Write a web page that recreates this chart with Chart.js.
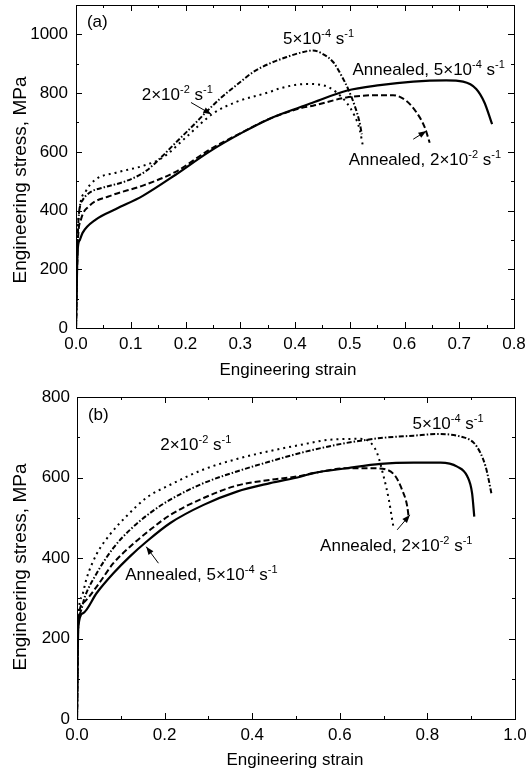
<!DOCTYPE html>
<html>
<head>
<meta charset="utf-8">
<script src="https://cdn.jsdelivr.net/npm/chart.js@4.4.0/dist/chart.umd.min.js"></script>
<style>
  html, body { margin: 0; padding: 0; background: #fff; }
  .panel { position: absolute; left: 0; width: 527px; height: 386px; }
  #panelA { top: 0; }
  #panelB { top: 386px; }
</style>
</head>
<body>
<div class="panel" id="panelA"><canvas id="chartA" width="527" height="386"></canvas></div>
<div class="panel" id="panelB"><canvas id="chartB" width="527" height="386"></canvas></div>
<script>
// ---- panel (a) data ----
const aStrainTicks = [0, 0.1, 0.2, 0.3, 0.4, 0.5, 0.6, 0.7, 0.8];
const aStressTicks = [0, 200, 400, 600, 800, 1000];
const aStressMax = 1100;

// annealed, 5e-4 (solid)
const aStrainAnn5e4 = [0, 0.003, 0.007, 0.012, 0.036, 0.073, 0.122, 0.182, 0.243, 0.305, 0.354, 0.409, 0.433, 0.494, 0.555, 0.616, 0.676, 0.707, 0.731, 0.746, 0.76];
const aStressAnn5e4 = [0, 265, 300, 324, 369, 405, 450, 522, 600, 667, 713, 752, 768, 808, 827, 839, 843, 839, 814, 768, 694];
// annealed, 2e-2 (dashed)
const aStrainAnn2e2 = [0, 0.003, 0.009, 0.024, 0.061, 0.122, 0.182, 0.243, 0.305, 0.354, 0.409, 0.433, 0.494, 0.555, 0.579, 0.603, 0.622, 0.637, 0.646];
const aStressAnn2e2 = [0, 280, 369, 415, 449, 485, 532, 606, 668, 713, 748, 757, 785, 793, 793, 774, 734, 683, 631];
// 5e-4 (dash-dot)
const aStrain5e4 = [0, 0.003, 0.006, 0.012, 0.024, 0.049, 0.091, 0.128, 0.158, 0.182, 0.213, 0.239, 0.263, 0.293, 0.324, 0.354, 0.385, 0.409, 0.433, 0.451, 0.47, 0.485, 0.497, 0.509, 0.518, 0.522];
const aStress5e4 = [0, 300, 400, 435, 460, 478, 500, 535, 586, 631, 688, 738, 781, 827, 872, 901, 923, 937, 945, 933, 905, 859, 814, 757, 700, 660];
// 2e-2 (dotted)
const aStrain2e2 = [0, 0.003, 0.007, 0.018, 0.036, 0.073, 0.122, 0.158, 0.2, 0.25, 0.293, 0.354, 0.372, 0.421, 0.451, 0.476, 0.494, 0.509, 0.518, 0.524];
const aStress2e2 = [0, 310, 410, 466, 506, 529, 552, 580, 648, 730, 770, 804, 816, 831, 827, 802, 768, 722, 677, 620];

// ---- panel (b) data ----
const bStrainTicks = [0, 0.2, 0.4, 0.6, 0.8, 1.0];
const bStressTicks = [0, 200, 400, 600, 800];
const bStressMax = 800;

const bStrainAnn5e4 = [0, 0.003, 0.014, 0.045, 0.083, 0.121, 0.159, 0.213, 0.289, 0.365, 0.441, 0.51, 0.54, 0.616, 0.693, 0.769, 0.83, 0.868, 0.891, 0.902, 0.907];
const bStressAnn5e4 = [0, 230, 263, 313, 362, 404, 441, 487, 532, 565, 586, 602, 611, 623, 634, 637, 637, 627, 603, 561, 503];
const bStrainAnn2e2 = [0, 0.003, 0.014, 0.045, 0.083, 0.121, 0.167, 0.213, 0.289, 0.365, 0.441, 0.51, 0.54, 0.616, 0.677, 0.708, 0.727, 0.742, 0.754, 0.757];
const bStressAnn2e2 = [0, 240, 288, 329, 387, 428, 470, 507, 549, 580, 594, 604, 611, 623, 623, 619, 603, 570, 528, 503];
const bStrain5e4 = [0, 0.003, 0.007, 0.018, 0.045, 0.083, 0.121, 0.167, 0.213, 0.289, 0.365, 0.441, 0.51, 0.54, 0.616, 0.693, 0.769, 0.822, 0.875, 0.906, 0.921, 0.933, 0.94, 0.946];
const bStress5e4 = [0, 240, 263, 304, 362, 425, 470, 512, 545, 586, 615, 640, 661, 669, 686, 698, 704, 708, 702, 686, 661, 627, 594, 561];
const bStrain2e2 = [0, 0.003, 0.011, 0.022, 0.045, 0.075, 0.114, 0.159, 0.213, 0.289, 0.365, 0.441, 0.51, 0.578, 0.647, 0.67, 0.685, 0.7, 0.712, 0.719, 0.722];
const bStress2e2 = [0, 250, 304, 350, 410, 458, 505, 550, 582, 620, 646, 666, 681, 694, 696, 687, 661, 603, 545, 499, 480];

const FONT = '"Liberation Sans", Arial, sans-serif';

// line styles for the four curves
const solid = { dash: [], width: 2.2 };
const dashed = { dash: [6, 3], width: 2 };
const dashDot = { dash: [5, 2, 1.5, 2], width: 2 };
const dotted = { dash: [2, 4], width: 2 };

// text with ^{...} superscripts, drawn from a left/baseline anchor
function drawRich(ctx, x, y, str) {
  const parts = str.split(/\^\{([^}]*)\}/);
  let cx = x;
  parts.forEach((t, i) => {
    const sup = i % 2 === 1;
    ctx.font = (sup ? '11px ' : '17px ') + FONT;
    ctx.fillText(t, cx, sup ? y - 7 : y);
    cx += ctx.measureText(t).width;
  });
}

function drawArrow(ctx, x0, y0, x1, y1) {
  const ang = Math.atan2(y1 - y0, x1 - x0);
  ctx.beginPath();
  ctx.moveTo(x0, y0);
  ctx.lineTo(x1, y1);
  ctx.stroke();
  ctx.beginPath();
  ctx.moveTo(x1, y1);
  ctx.lineTo(x1 - 8 * Math.cos(ang) + 3 * Math.sin(ang), y1 - 8 * Math.sin(ang) - 3 * Math.cos(ang));
  ctx.lineTo(x1 - 8 * Math.cos(ang) - 3 * Math.sin(ang), y1 - 8 * Math.sin(ang) + 3 * Math.cos(ang));
  ctx.closePath();
  ctx.fill();
}

// frame, inward ticks on all four sides, axis titles and annotations
const panelDecor = {
  id: 'panelDecor',
  afterDraw(chart, args, o) {
    const { ctx, chartArea: a, scales: { x, y } } = chart;
    ctx.save();
    ctx.strokeStyle = '#000';
    ctx.fillStyle = '#000';
    ctx.lineWidth = 1;
    ctx.strokeRect(a.left + 0.5, a.top + 0.5, a.right - a.left, a.bottom - a.top);

    const nx = Math.round((x.max - x.min) / o.xMinor);
    for (let i = 0; i <= nx; i++) {
      const v = x.min + i * o.xMinor;
      const len = i % 2 === 0 ? 6 : 3;
      const px = Math.round(x.getPixelForValue(v)) + 0.5;
      ctx.beginPath();
      ctx.moveTo(px, a.bottom); ctx.lineTo(px, a.bottom - len);
      ctx.moveTo(px, a.top); ctx.lineTo(px, a.top + len);
      ctx.stroke();
    }
    const ny = Math.round((y.max - y.min) / o.yMinor);
    for (let i = 0; i <= ny; i++) {
      const v = y.min + i * o.yMinor;
      const len = i % 2 === 0 ? 6 : 3;
      const py = Math.round(y.getPixelForValue(v)) + 0.5;
      ctx.beginPath();
      ctx.moveTo(a.left, py); ctx.lineTo(a.left + len, py);
      ctx.moveTo(a.right, py); ctx.lineTo(a.right - len, py);
      ctx.stroke();
    }

    // axis titles
    ctx.textAlign = 'center';
    ctx.textBaseline = 'alphabetic';
    ctx.font = '17px ' + FONT;
    ctx.fillText(o.xTitle.text, o.xTitle.x, o.xTitle.y);
    ctx.font = '19px ' + FONT;
    ctx.save();
    ctx.translate(o.yTitle.x, o.yTitle.y);
    ctx.rotate(-Math.PI / 2);
    ctx.fillText(o.yTitle.text, 0, 0);
    ctx.restore();

    // annotations
    ctx.textAlign = 'left';
    o.notes.forEach(n => drawRich(ctx, x.getPixelForValue(n.x), y.getPixelForValue(n.y), n.text));
    o.arrows.forEach(r => drawArrow(ctx,
      x.getPixelForValue(r.from[0]), y.getPixelForValue(r.from[1]),
      x.getPixelForValue(r.to[0]), y.getPixelForValue(r.to[1])));
    ctx.restore();
  }
};

function series(strain, stress, style) {
  return {
    data: strain.map((v, i) => ({ x: v, y: stress[i] })),
    showLine: true,
    pointRadius: 0,
    borderColor: '#000',
    borderWidth: style.width,
    borderDash: style.dash,
    cubicInterpolationMode: 'monotone',
    fill: false
  };
}

function makeChart(id, datasets, xTicks, yTicks, yMax, box, decor) {
  return new Chart(document.getElementById(id), {
    type: 'scatter',
    data: { datasets: datasets },
    options: {
      responsive: false,
      animation: false,
      devicePixelRatio: 1,
      layout: { padding: box.pad },
      plugins: { legend: { display: false }, tooltip: { enabled: false }, panelDecor: decor },
      scales: {
        x: {
          type: 'linear',
          min: xTicks[0],
          max: xTicks[xTicks.length - 1],
          afterBuildTicks: s => { s.ticks = xTicks.map(v => ({ value: v })); },
          afterFit: s => { s.height = box.xHeight; s.paddingLeft = 0; s.paddingRight = 0; },
          grid: { display: false, drawTicks: false },
          border: { display: false },
          ticks: {
            padding: box.xPad, color: '#000', maxRotation: 0, autoSkip: false,
            font: { family: FONT, size: 17 },
            callback: v => Number(v).toFixed(1)
          }
        },
        y: {
          type: 'linear',
          min: yTicks[0],
          max: yMax,
          afterBuildTicks: s => { s.ticks = yTicks.map(v => ({ value: v })); },
          afterFit: s => { s.width = box.yWidth; s.paddingTop = 0; s.paddingBottom = 0; },
          grid: { display: false, drawTicks: false },
          border: { display: false },
          ticks: {
            padding: box.yPad, color: '#000', autoSkip: false,
            font: { family: FONT, size: 17 },
            callback: v => String(v)
          }
        }
      }
    },
    plugins: [panelDecor]
  });
}

makeChart('chartA', [
  series(aStrainAnn5e4, aStressAnn5e4, solid),
  series(aStrainAnn2e2, aStressAnn2e2, dashed),
  series(aStrain5e4, aStress5e4, dashDot),
  series(aStrain2e2, aStress2e2, dotted)
], aStrainTicks, aStressTicks, aStressMax,
  { pad: { top: 5, right: 13, left: 0, bottom: 0 }, xHeight: 58, yWidth: 76, xPad: 6, yPad: 8 },
  {
    xMinor: 0.05, yMinor: 100,
    xTitle: { text: 'Engineering strain', x: 288, y: 375 },
    yTitle: { text: 'Engineering stress, MPa', x: 26, y: 180 },
    notes: [
      { text: '(a)', x: 0.02, y: 1026 },
      { text: '2×10^{-2} s^{-1}', x: 0.12, y: 776 },
      { text: '5×10^{-4} s^{-1}', x: 0.378, y: 968 },
      { text: 'Annealed, 5×10^{-4} s^{-1}', x: 0.505, y: 862 },
      { text: 'Annealed, 2×10^{-2} s^{-1}', x: 0.498, y: 556 }
    ],
    arrows: [
      { from: [0.21, 768], to: [0.247, 728] },
      { from: [0.616, 643], to: [0.64, 671] }
    ]
  });

makeChart('chartB', [
  series(bStrainAnn5e4, bStressAnn5e4, solid),
  series(bStrainAnn2e2, bStressAnn2e2, dashed),
  series(bStrain5e4, bStress5e4, dashDot),
  series(bStrain2e2, bStress2e2, dotted)
], bStrainTicks, bStressTicks, bStressMax,
  { pad: { top: 11, right: 12, left: 0, bottom: 0 }, xHeight: 53, yWidth: 77, xPad: 6, yPad: 7 },
  {
    xMinor: 0.1, yMinor: 100,
    xTitle: { text: 'Engineering strain', x: 295, y: 379 },
    yTitle: { text: 'Engineering stress, MPa', x: 26, y: 181 },
    notes: [
      { text: '(b)', x: 0.025, y: 744 },
      { text: '2×10^{-2} s^{-1}', x: 0.19, y: 669 },
      { text: 'Annealed, 5×10^{-4} s^{-1}', x: 0.11, y: 346 },
      { text: '5×10^{-4} s^{-1}', x: 0.766, y: 721 },
      { text: 'Annealed, 2×10^{-2} s^{-1}', x: 0.555, y: 418 }
    ],
    arrows: [
      { from: [0.186, 387], to: [0.158, 428] },
      { from: [0.731, 470], to: [0.76, 507] }
    ]
  });
</script>
</body>
</html>
